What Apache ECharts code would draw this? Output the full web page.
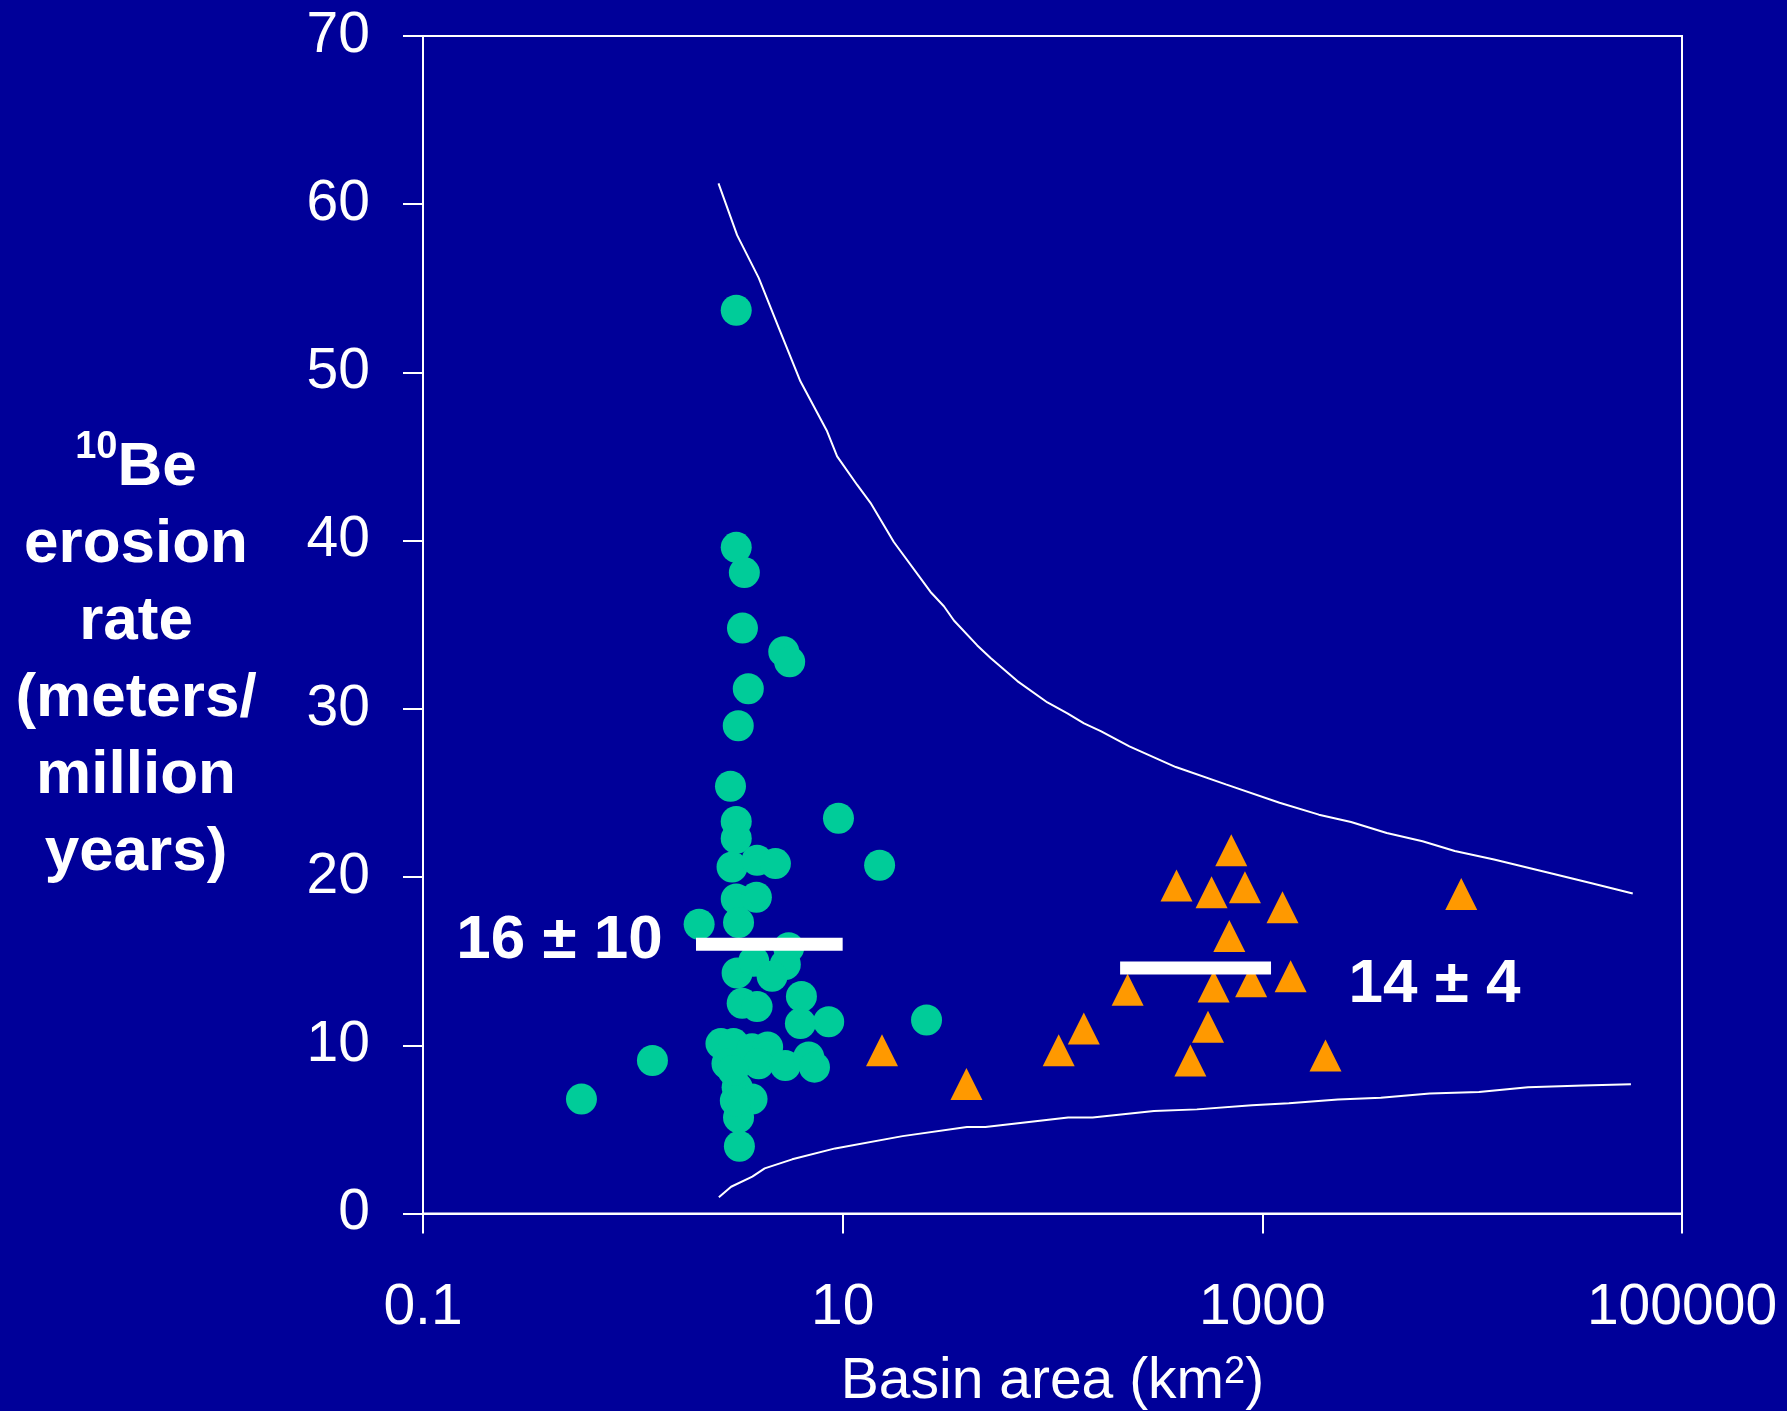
<!DOCTYPE html>
<html>
<head>
<meta charset="utf-8">
<script src="https://cdn.jsdelivr.net/npm/echarts@6/dist/echarts.min.js"></script>
<style>
  html, body { margin: 0; padding: 0; background: #000099; }
  #c { width: 1787px; height: 1411px; }
</style>
</head>
<body>
<div id="c"></div>
<script>
// ---------- data (basin area km², erosion rate m/Myr) ----------
const smallBasinArea = [3.11, 3.11, 3.40, 3.33, 5.24, 5.59, 3.55, 3.18, 2.92, 3.11, 3.11, 2.97, 3.91, 4.78, 9.55, 15.0,
  3.11, 3.88, 2.07, 3.19, 5.53, 3.14, 3.77, 5.33, 4.61, 3.32, 3.91, 6.36, 6.29, 8.58, 25.1, 1.24, 0.569,
  2.63, 3.02, 3.70, 4.39, 2.81, 3.98, 5.33, 6.89, 7.34, 3.14, 3.70, 3.19, 3.22, 3.08, 3.00];
const smallBasinRate = [53.7, 39.6, 38.1, 34.8, 33.4, 32.8, 31.2, 29.0, 25.4, 23.3, 22.3, 20.6, 21.0, 20.8, 23.5, 20.7,
  18.7, 18.8, 17.2, 17.3, 15.8, 14.3, 15.0, 14.8, 14.1, 12.5, 12.3, 12.9, 11.3, 11.4, 11.5, 9.1, 6.8,
  10.1, 10.1, 9.8, 9.9, 8.9, 8.9, 8.8, 9.3, 8.7, 7.5, 6.8, 5.7, 4.0, 6.7, 8.5];

const largeBasinArea = [15.4, 38.9, 107, 141, 228, 390, 573, 711, 826, 1248, 696, 586, 884, 1364, 551, 454, 2000, 8870];
const largeBasinRate = [9.7, 7.7, 9.7, 11.0, 13.3, 19.5, 19.1, 21.6, 19.4, 18.2, 16.5, 13.5, 13.8, 14.1, 11.1, 9.1, 9.4, 19.0];

const upperCurveArea = [2.56, 3.14, 3.98, 4.96, 6.29, 8.43, 9.41, 11.73, 13.57, 17.53, 26.23, 30.37, 33.9, 43.8, 50.7,
  68.0, 94.6, 117.8, 141.3, 169.8, 232.5, 387, 670, 1208, 1860, 2647, 3917, 5800, 8260, 12720, 22890, 36680, 58260];
const upperCurveRate = [61.24, 58.16, 55.62, 52.65, 49.47, 46.5, 45.01, 43.31, 42.25, 39.92, 36.95, 36.1, 35.25, 33.77, 33.02,
  31.65, 30.38, 29.73, 29.14, 28.68, 27.77, 26.54, 25.51, 24.42, 23.71, 23.27, 22.62, 22.13, 21.55, 21.04, 20.27, 19.65, 19.02];

const lowerCurveArea = [2.57, 2.94, 3.71, 4.25, 5.75, 9.21, 19.3, 39.1, 47.9, 118.7, 155.3, 304.6, 487.5, 893, 1338, 2292,
  3667, 6284, 10770, 18450, 33780, 57100];
const lowerCurveRate = [0.96, 1.59, 2.19, 2.68, 3.22, 3.87, 4.6, 5.14, 5.14, 5.71, 5.71, 6.09, 6.19, 6.44, 6.55, 6.78,
  6.88, 7.14, 7.23, 7.5, 7.61, 7.69];

const smallMeanRange = [2, 10];
const smallMean = 16;
const largeMeanRange = [210, 1100];
const largeMean = 14.6;

const smallMeanLabel = '16 ± 10';
const largeMeanLabel = '14 ± 4';

const xTickValues = [0.1, 10, 1000, 100000];
const yTickMin = 0, yTickMax = 70, yTickStep = 10;

// ---------- chart ----------
const FONT = '"Liberation Sans", Arial, Helvetica, sans-serif';
const zip = (a, b) => a.map((v, i) => [v, b[i]]);

const chart = echarts.init(document.getElementById('c'), null, { renderer: 'canvas' });

const option = {
  backgroundColor: '#000099',
  animation: false,
  grid: {
    left: 423, top: 36, width: 1259, height: 1177.5,
    outerBoundsMode: 'none', containLabel: false,
    show: true, borderColor: '#ffffff', borderWidth: 2, backgroundColor: 'transparent'
  },
  xAxis: {
    type: 'log', logBase: 10, min: 0.1, max: 100000,
    axisLine: { show: true, onZero: false, lineStyle: { color: '#ffffff', width: 2 } },
    axisTick: { show: true, length: 20, lineStyle: { color: '#ffffff', width: 2 }, customValues: xTickValues },
    minorTick: { show: false },
    axisLabel: {
      color: '#ffffff', fontSize: 57, fontFamily: FONT, margin: 66,
      customValues: xTickValues,
      formatter: v => String(parseFloat(Number(v).toPrecision(6)))
    },
    splitLine: { show: false },
    name: '{n|Basin area (km}{s|2}{n|)}',
    nameLocation: 'middle', nameGap: 140,
    nameTextStyle: {
      rich: {
        n: { color: '#ffffff', fontSize: 57, fontFamily: FONT, lineHeight: 57 },
        s: { color: '#ffffff', fontSize: 38, fontFamily: FONT, verticalAlign: 'top', lineHeight: 18 }
      }
    }
  },
  yAxis: {
    type: 'value', min: yTickMin, max: yTickMax, interval: yTickStep,
    axisLine: { show: true, onZero: false, lineStyle: { color: '#ffffff', width: 2 } },
    axisTick: { show: true, length: 20, lineStyle: { color: '#ffffff', width: 2 } },
    axisLabel: { color: '#ffffff', fontSize: 57, fontFamily: FONT, margin: 53, padding: [16, 0, 0, 0] },
    splitLine: { show: false }
  },
  series: [
    {
      name: 'upper', type: 'line', data: zip(upperCurveArea, upperCurveRate),
      symbol: 'none', smooth: false, lineStyle: { color: '#ffffff', width: 2 }, z: 2, silent: true
    },
    {
      name: 'lower', type: 'line', data: zip(lowerCurveArea, lowerCurveRate),
      symbol: 'none', smooth: false, lineStyle: { color: '#ffffff', width: 2 }, z: 2, silent: true
    },
    {
      name: 'small basins', type: 'scatter', data: zip(smallBasinArea, smallBasinRate),
      symbol: 'circle', symbolSize: 31,
      itemStyle: { color: '#00CC99', opacity: 1 }, z: 3
    },
    {
      name: 'large basins', type: 'scatter', data: zip(largeBasinArea, largeBasinRate),
      symbol: 'triangle', symbolSize: 32,
      itemStyle: { color: '#FF9900', opacity: 1 }, z: 3
    },
    {
      name: 'small mean', type: 'line',
      data: [[smallMeanRange[0], smallMean], [smallMeanRange[1], smallMean]],
      symbol: 'none', lineStyle: { color: '#ffffff', width: 13, cap: 'butt' }, z: 5, silent: true
    },
    {
      name: 'large mean', type: 'line',
      data: [[largeMeanRange[0], largeMean], [largeMeanRange[1], largeMean]],
      symbol: 'none', lineStyle: { color: '#ffffff', width: 13, cap: 'butt' }, z: 5, silent: true
    }
  ],
  graphic: [
    {
      type: 'text', x: 136, y: 660, z: 10,
      style: {
        text: '{s|10}{b|Be}\n{b|erosion}\n{b|rate}\n{b|(meters/}\n{b|million}\n{b|years)}',
        align: 'center', verticalAlign: 'middle',
        rich: {
          b: { fill: '#ffffff', fontSize: 62, fontWeight: 'bold', fontFamily: FONT, lineHeight: 77, align: 'center' },
          s: { fill: '#ffffff', fontSize: 38, fontWeight: 'bold', fontFamily: FONT, lineHeight: 44, verticalAlign: 'top', align: 'center' }
        }
      }
    },
    {
      type: 'text', x: 559.5, y: 941, z: 10,
      style: {
        text: smallMeanLabel, fill: '#ffffff', fontSize: 62, fontWeight: 'bold', fontFamily: FONT,
        align: 'center', verticalAlign: 'middle'
      }
    },
    {
      type: 'text', x: 1434.5, y: 985, z: 10,
      style: {
        text: largeMeanLabel, fill: '#ffffff', fontSize: 62, fontWeight: 'bold', fontFamily: FONT,
        align: 'center', verticalAlign: 'middle'
      }
    }
  ]
};

chart.setOption(option);
</script>
</body>
</html>
